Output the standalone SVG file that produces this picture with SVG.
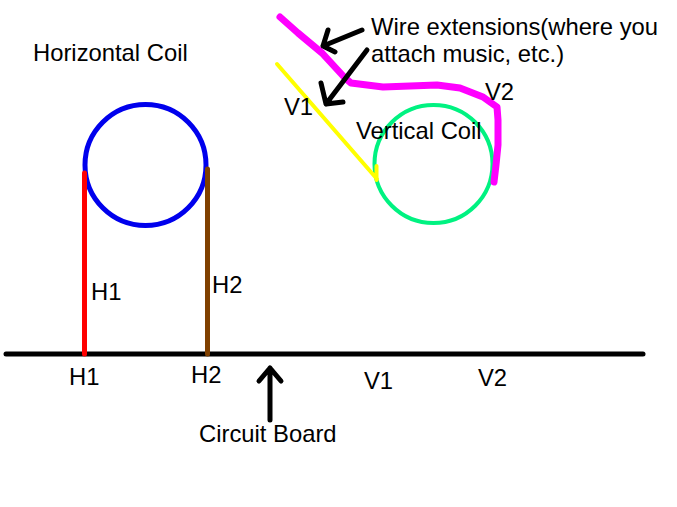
<svg xmlns="http://www.w3.org/2000/svg" width="677" height="507" viewBox="0 0 677 507">
<style>
text{font-family:"Liberation Sans",Arial,sans-serif;font-size:23.8px;fill:#000}
.w{fill:none;stroke-linecap:round;stroke-linejoin:round}
.k{stroke:#000;stroke-width:5}
</style>
<rect width="677" height="507" fill="#fff"/>
<g id="horizontal-coil">
<circle cx="145.500" cy="165" r="60.500" fill="none" stroke="#0000ed" stroke-width="5"/>
<text x="33" y="61">Horizontal Coil</text>
</g>
<g id="vertical-coil">
<circle cx="433.500" cy="164" r="59" fill="none" stroke="#00f281" stroke-width="4"/>
<text x="356" y="139">Vertical Coil</text>
</g>
<g id="connectors">
<path class="w" d="M6 354H643" stroke="#000" stroke-width="5"/>
<path class="w" d="M84.500 173V354" stroke="#f00" stroke-width="5"/>
<path class="w" d="M207.500 169V354" stroke="#804000" stroke-width="5"/>
<path class="w" d="M277 64L377 179M376.500 166V180" stroke="#ff0" stroke-width="4"/>
<path class="w" d="M280 17L298 33L322 53L345 78L351 83L383 87L437 85L460 88L483 97L497 107L498 120L498 145L496 165L494 182" stroke="#f0f" stroke-width="7"/>
<path class="w k" d="M362 30L323 46M328 30L323 46L335 52"/>
<path class="w k" d="M367 50L326 104M321 83L326 104L343 102"/>
<path class="w k" d="M270 420V368M259 381L270 368L281 381"/>
</g>
<g id="labels">
<text x="371" y="35">Wire extensions(where you</text>
<text x="371" y="62">attach music, etc.)</text>
<text x="284" y="115">V1</text>
<text x="485" y="100">V2</text>
<text x="91" y="300">H1</text>
<text x="212" y="293">H2</text>
<text x="69" y="385">H1</text>
<text x="191" y="383">H2</text>
<text x="364" y="389">V1</text>
<text x="478" y="386">V2</text>
<text x="199" y="442">Circuit Board</text>
</g>
</svg>
